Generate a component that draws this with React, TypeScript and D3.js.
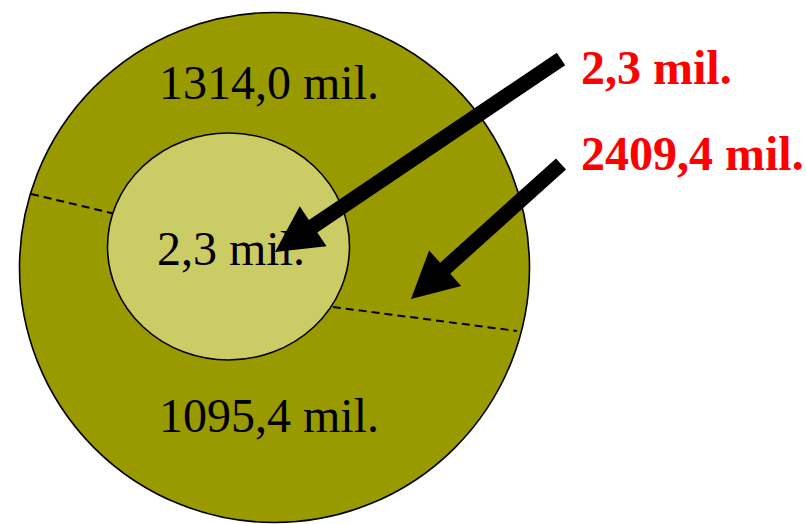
import React from "react";
import * as d3 from "d3";

// ---- data ----
const outerSegments = ["top", "bottom"];
const outerValues = [1314.0, 1095.4];
const innerValue = 2.3;
const calloutValues = [2.3, 2409.4];
const unitLabel = "mil.";

const W = 806;
const H = 524;

const locale = d3.formatLocale({ decimal: ",", thousands: "", grouping: [3], currency: ["", ""] });
const fmt = (v: number) => `${locale.format(".1f")(v)} ${unitLabel}`;

// geometry
const outer = { cx: 274.5, cy: 267.5, r: 255 };
const inner = { cx: 228.5, cy: 246.5, rx: 121, ry: 113.5 };
const dividers: [number, number, number, number][] = [
  [31, 194, 120, 215],
  [320, 305.3, 517, 331],
];
const arrows = [
  { tail: [561, 59], tip: [275, 252] },
  { tail: [561, 164], tip: [411, 299] },
];

function arrowPath(tail: number[], tip: number[], shaft = 15, headLen = 46, headHalf = 24) {
  const dx = tip[0] - tail[0];
  const dy = tip[1] - tail[1];
  const len = Math.hypot(dx, dy);
  const ux = dx / len, uy = dy / len;
  const px = -uy, py = ux;
  const bx = tip[0] - ux * headLen, by = tip[1] - uy * headLen;
  const s = shaft / 2;
  const p = d3.path();
  p.moveTo(tail[0] + px * s, tail[1] + py * s);
  p.lineTo(bx + px * s, by + py * s);
  p.lineTo(bx + px * headHalf, by + py * headHalf);
  p.lineTo(tip[0], tip[1]);
  p.lineTo(bx - px * headHalf, by - py * headHalf);
  p.lineTo(bx - px * s, by - py * s);
  p.lineTo(tail[0] - px * s, tail[1] - py * s);
  p.closePath();
  return p.toString();
}

const labelY = d3.scaleOrdinal<string, number>().domain(outerSegments).range([99, 432]);
const calloutY = d3.scaleBand<number>().domain([0, 1]).range([41, 213]);

export default function App() {
  const font = "'Liberation Serif', 'Times New Roman', serif";
  return (
    <svg width={W} height={H} style={{ position: "absolute", left: 0, top: 0, background: "#fff" }}>
      <circle cx={outer.cx} cy={outer.cy} r={outer.r} fill="#999900" stroke="#000" strokeWidth={1.6} />
      {dividers.map((d, i) => (
        <line key={i} x1={d[0]} y1={d[1]} x2={d[2]} y2={d[3]} stroke="#000" strokeWidth={2} strokeDasharray="8 5" />
      ))}
      <ellipse cx={inner.cx} cy={inner.cy} rx={inner.rx} ry={inner.ry} fill="#CCCC66" stroke="#000" strokeWidth={1.6} />
      {outerSegments.map((s, i) => (
        <text key={s} x={269} y={labelY(s)} fontFamily={font} fontSize={48} textAnchor="middle" fill="#000">
          {fmt(outerValues[i])}
        </text>
      ))}
      <text x={231} y={265} fontFamily={font} fontSize={48} textAnchor="middle" fill="#000">
        {fmt(innerValue)}
      </text>
      {arrows.map((a, i) => (
        <path key={i} d={arrowPath(a.tail, a.tip)} fill="#000" />
      ))}
      {calloutValues.map((v, i) => (
        <text key={i} x={581} y={(calloutY(i) as number) + 43} fontFamily={font} fontSize={48} fontWeight="bold" fill="#FF0000">
          {fmt(v)}
        </text>
      ))}
    </svg>
  );
}
